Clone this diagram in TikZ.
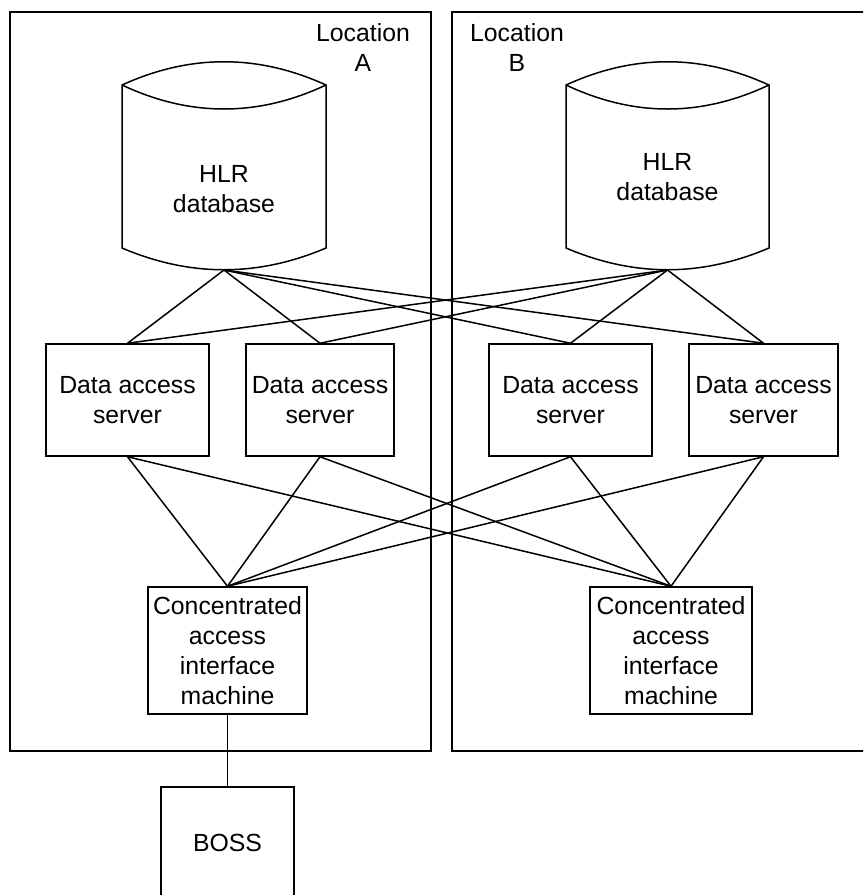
\documentclass[tikz,border=0pt]{standalone}
\usepackage{fontspec}
\setmainfont{Liberation Sans}

\tikzset{
  frame/.style={line width=1pt},
  link/.style={line width=0.75pt},
  txt/.style={align=center, inner sep=0pt},
  box/.style={draw, line width=0.75pt, align=center, inner sep=0pt, minimum height=56pt},
}

\begin{document}
\begin{tikzpicture}[x=0.5pt, y=-0.5pt, every node/.style={font=\fontsize{12.4}{15}\selectfont}]

\def\yt{12}; % frame top
\def\yb{751}; % frame bottom
\def\yct{85}; % cylinder top
\def\ycb{248}; % cylinder bottom

\def\xal{122}; % database A
\def\xar{326};
\def\xbl{566}; % database B
\def\xbr{769};

\useasboundingbox (0,0) rectangle (863,895);
\clip (0,0) rectangle (863,895);

% locations
\draw[frame] (10,\yt) rectangle (431,\yb);
\draw[frame] (452,\yt) rectangle (880,\yb);
\node[txt] (locA) at (363,47.5) {Location\\A};
\node[txt] (locB) at (517,47.5) {Location\\B};

% databases
\draw[link] (\xal,\yct) .. controls (\xal+68,54) and (\xar-68,54) .. (\xar,\yct) -- (\xar,\ycb)
  .. controls (\xar-68,277) and (\xal+68,277) .. (\xal,\ycb) -- cycle;
\draw[link] (\xal,\yct) .. controls (\xal+68,117) and (\xar-68,117) .. (\xar,\yct);
\coordinate (dbA) at (224,270);
\node[txt] (hlrA) at (224,189) {HLR\\database};

\draw[link] (\xbl,\yct) .. controls (\xbl+68,54) and (\xbr-68,54) .. (\xbr,\yct) -- (\xbr,\ycb)
  .. controls (\xbr-68,277) and (\xbl+68,277) .. (\xbl,\ycb) -- cycle;
\draw[link] (\xbl,\yct) .. controls (\xbl+68,117) and (\xbr-68,117) .. (\xbr,\yct);
\coordinate (dbB) at (667.5,270);
\node[txt] (hlrB) at (667.5,177) {HLR\\database};

% data access servers
\node[box, minimum width=81.5pt] (dasA1) at (127.5,400) {Data access\\server};
\node[box, minimum width=74pt] (dasA2) at (320,400) {Data access\\server};
\node[box, minimum width=81.5pt] (dasB1) at (570.5,400) {Data access\\server};
\node[box, minimum width=74.5pt] (dasB2) at (763.5,400) {Data access\\server};

% interface machines
\node[box, minimum width=79.5pt, minimum height=63.5pt] (caimA) at (227.5,650.5) {Concentrated\\access\\interface\\machine};
\node[box, minimum width=81pt, minimum height=63.5pt] (caimB) at (671,650.5) {Concentrated\\access\\interface\\machine};

\node[box, minimum width=66.5pt] (boss) at (227.5,843) {BOSS};

% links
\foreach \s in {dasA1,dasA2,dasB1,dasB2} {
  \draw[link] (dbA) -- (\s.north);
  \draw[link] (dbB) -- (\s.north);
  \draw[link] (\s.south) -- (caimA.north);
  \draw[link] (\s.south) -- (caimB.north);
}
\draw[link] (caimA) -- (boss);

\end{tikzpicture}
\end{document}
